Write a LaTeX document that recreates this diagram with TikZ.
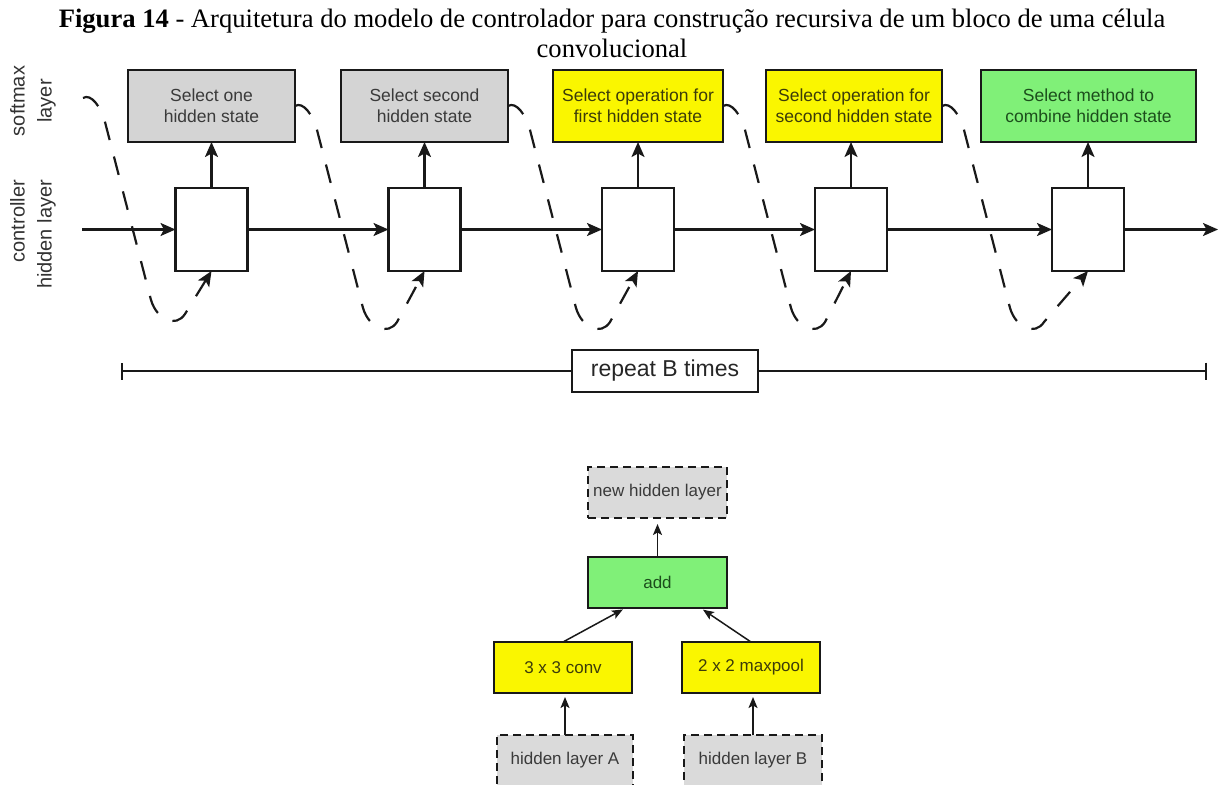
\documentclass[tikz,border=0pt]{standalone}
\usepackage{fontspec}
\setmainfont{Liberation Serif}
\newfontfamily\diagfont{Liberation Sans}
\usetikzlibrary{arrows.meta}

\definecolor{greyfill}{RGB}{212,212,212}
\definecolor{greytext}{RGB}{58,58,58}
\definecolor{yellowfill}{RGB}{250,246,0}
\definecolor{yellowtext}{RGB}{60,60,10}
\definecolor{greenfill}{RGB}{128,240,120}
\definecolor{greentext}{RGB}{28,78,28}
\definecolor{dashfill}{RGB}{218,218,218}
\definecolor{labeltext}{RGB}{50,50,50}
\definecolor{edge}{RGB}{25,25,25}

\begin{document}
\begin{tikzpicture}[x=1pt,y=-1pt,
  every node/.style={inner sep=0pt, outer sep=0pt},
  % upper row: softmax decisions and controller cells
  softbox/.style={draw=edge, line width=2.2pt, minimum height=72pt, align=center,
    font=\diagfont\fontsize{17.5}{21}\selectfont},
  greybox/.style={softbox, fill=greyfill, text=greytext},
  yellowbox/.style={softbox, fill=yellowfill, text=yellowtext},
  greenbox/.style={softbox, fill=greenfill, text=greentext},
  cellbox/.style={draw=edge, line width=2.2pt, fill=white, minimum width=72pt, minimum height=83pt},
  flow/.style={draw=edge, line width=2.2pt, -{Stealth[length=15pt,width=13pt,inset=3.5pt]}},
  loopline/.style={draw=edge, line width=2.2pt, dash pattern=on 19pt off 17pt,
    -{Stealth[length=15pt,width=13pt,inset=3.5pt]}},
  sidelabel/.style={rotate=90, font=\diagfont\fontsize{20}{27}\selectfont, text=labeltext},
  % lower diagram: one combined block
  cellnode/.style={minimum width=138pt, minimum height=51pt,
    font=\diagfont\fontsize{17}{20}\selectfont},
  solidnode/.style={cellnode, draw=edge, line width=1.5pt},
  dashnode/.style={cellnode, draw=edge, line width=2pt, dash pattern=on 8pt off 5pt,
    fill=dashfill, text=greytext},
  thinflow/.style={draw=edge, line width=1.5pt, -{Stealth[length=11pt,width=9pt,inset=2.5pt]}},
]
\useasboundingbox (0,0) rectangle (1222,784);
\clip (0,0) rectangle (1222,784);

% caption
\node[anchor=base, font=\fontsize{26.6}{29}\selectfont] (title1) at (612,28)
  {\textbf{Figura 14} - Arquitetura do modelo de controlador para construção recursiva de um bloco de uma célula};
\node[anchor=base, font=\fontsize{26.6}{29}\selectfont] (title2) at (612,57) {convolucional};

% row labels
\node[sidelabel, align=center] (lsoft) at (33,101) {softmax\\layer};
\node[sidelabel, align=right, anchor=east] (lctrl) at (33,180) {controller\\hidden layer};

% softmax decisions
\node[greybox, minimum width=167pt] (s1) at (211.5,106) {Select one\\hidden state};
\node[greybox, minimum width=167pt] (s2) at (424.5,106) {Select second\\hidden state};
\node[yellowbox, minimum width=170pt] (s3) at (638,106) {Select operation for\\first hidden state};
\node[yellowbox, minimum width=176pt] (s4) at (854,106) {Select operation for\\second hidden state};
\node[greenbox, minimum width=215pt] (s5) at (1088.5,106) {Select method to\\combine hidden state};

% controller cells
\node[cellbox] (h1) at (211.5,229.5) {};
\node[cellbox] (h2) at (424.5,229.5) {};
\node[cellbox] (h3) at (638,229.5) {};
\node[cellbox] (h4) at (851,229.5) {};
\node[cellbox] (h5) at (1088,229.5) {};

\coordinate (cin) at (82,229.5);
\coordinate (cout) at (1218,229.5);
\coordinate (c0) at (83,98);

% recurrent chain
\draw[flow] (cin) -- (h1.west);
\draw[flow] (h1.east) -- (h2.west);
\draw[flow] (h2.east) -- (h3.west);
\draw[flow] (h3.east) -- (h4.west);
\draw[flow] (h4.east) -- (h5.west);
\draw[flow] (h5.east) -- (cout);

% cell outputs to softmax
\draw[flow] (h1.north) -- (h1.north |- s1.south);
\draw[flow] (h2.north) -- (h2.north |- s2.south);
\draw[flow] (h3.north) -- (h3.north |- s3.south);
\draw[flow] (h4.north) -- (h4.north |- s4.south);
\draw[flow] (h5.north) -- (h5.north |- s5.south);

% each decision is fed back into the next cell
\draw[loopline] (c0) .. controls +(8,-5) and +(-4,-15) .. ++(22,24) -- ++(46,178)
  .. controls +(6,20) and +(-9,14) .. ++(34,14) -- (h1.south);
\draw[loopline] (s1.east) .. controls +(8,-5) and +(-4,-15) .. ++(22,24) -- ++(46,178)
  .. controls +(6,20) and +(-9,14) .. ++(34,14) -- (h2.south);
\draw[loopline] (s2.east) .. controls +(8,-5) and +(-4,-15) .. ++(22,24) -- ++(46,178)
  .. controls +(6,20) and +(-9,14) .. ++(34,14) -- (h3.south);
\draw[loopline] (s3.east) .. controls +(8,-5) and +(-4,-15) .. ++(22,24) -- ++(46,178)
  .. controls +(6,20) and +(-9,14) .. ++(34,14) -- (h4.south);
\draw[loopline] (s4.east) .. controls +(8,-5) and +(-4,-15) .. ++(22,24) -- ++(46,178)
  .. controls +(6,20) and +(-9,14) .. ++(34,14) -- (h5.south);

% repetition span
\coordinate (rl) at (121,371);
\coordinate (rr) at (1207,371);
\node[draw=edge, line width=1.6pt, minimum width=186pt, minimum height=42pt,
  font=\diagfont\fontsize{23}{26}\selectfont, text=black!85] (rep) at (665,371) {repeat B times};
\draw[draw=edge, line width=2.2pt, {Bar[width=17pt]}-] (rl) -- (rep.west);
\draw[draw=edge, line width=2.2pt, -{Bar[width=17pt]}] (rep.east) -- (rr);

% combined block
\node[dashnode, minimum width=139pt] (nh) at (657.5,492.5) {new hidden layer};
\node[solidnode, minimum width=139pt, fill=greenfill, text=greentext] (add) at (657.5,582.5) {add};
\node[solidnode, fill=yellowfill, text=yellowtext] (conv) at (563,667.5) {3 x 3 conv};
\node[solidnode, fill=yellowfill, text=yellowtext] (pool) at (751,667.5) {2 x 2 maxpool};
\node[dashnode, minimum width=136pt] (ha) at (565,760.5) {hidden layer A};
\node[dashnode, minimum width=138pt] (hb) at (753,760.5) {hidden layer B};

\draw[thinflow, shorten >=6pt] (add.north) -- (nh.south);
\draw[thinflow, shorten >=3pt] (conv.north) -- ([xshift=-32pt]add.south);
\draw[thinflow, shorten >=3pt] (pool.north) -- ([xshift=43pt]add.south);
\draw[thinflow, shorten >=4pt] (ha.north) -- (ha.north |- conv.south);
\draw[thinflow, shorten >=4pt] (hb.north) -- (hb.north |- pool.south);
\end{tikzpicture}
\end{document}
